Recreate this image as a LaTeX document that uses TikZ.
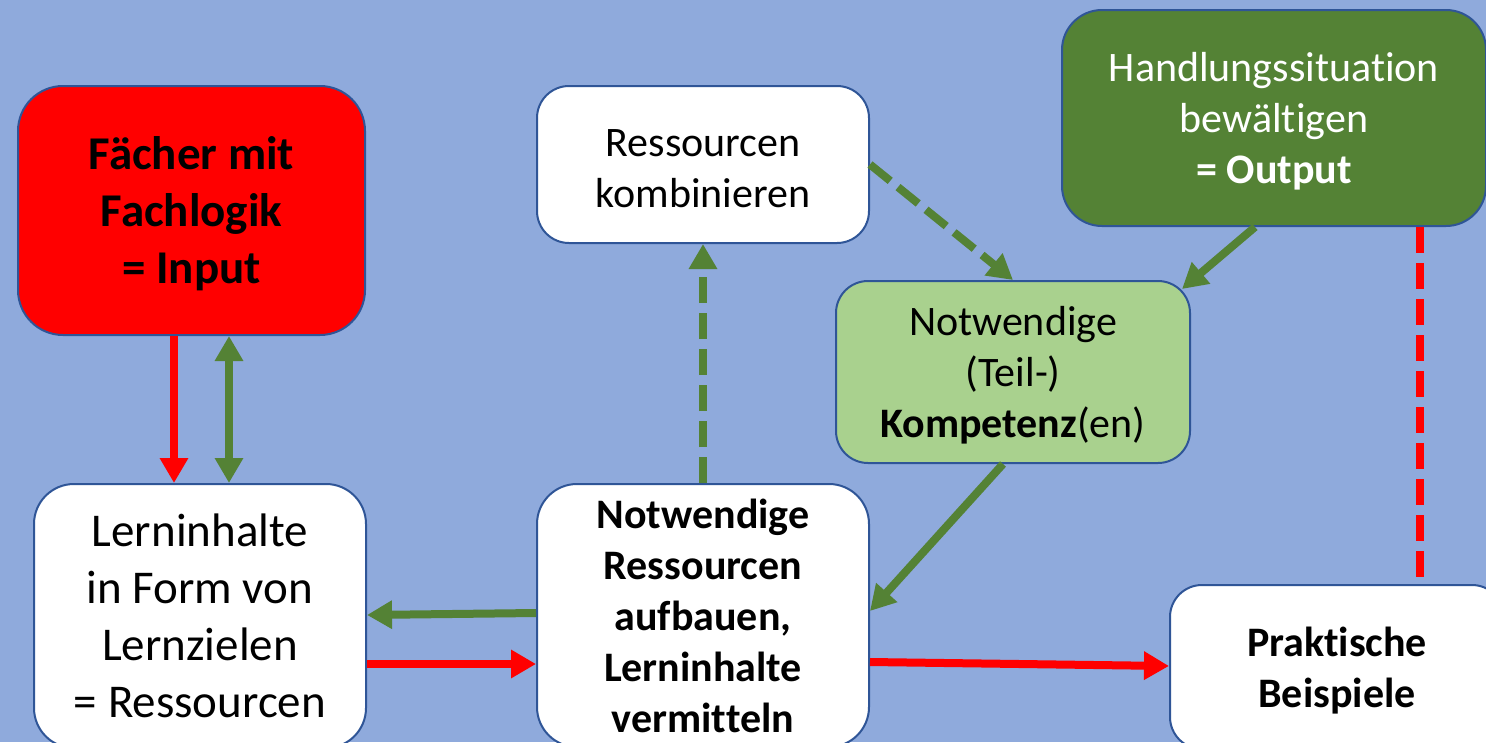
\documentclass[tikz,border=0pt]{standalone}
\usepackage{fontspec}
\setmainfont{Carlito}[Ligatures=NoCommon]
\usetikzlibrary{arrows.meta}
\definecolor{bg}{HTML}{8FAADC}
\definecolor{bord}{HTML}{2F5597}
\definecolor{dgreen}{HTML}{548235}
\definecolor{lgreen}{HTML}{A9D18E}
\definecolor{pred}{HTML}{FF0000}
\newcommand{\topstrut}{\rule{0pt}{\dimexpr0.66em+8pt\relax}}
\begin{document}
\begin{tikzpicture}[x=1pt,y=-1pt,
  >={Triangle[length=25pt,width=27pt]},
  box/.style={draw=bord, line width=2pt, fill=white, rounded corners=32pt, align=center, inner sep=0pt},
  big/.style={font=\fontsize{47}{57}\selectfont},
  mid/.style={font=\fontsize{42}{51}\selectfont},
  redline/.style={draw=pred, line width=8pt},
  greenline/.style={draw=dgreen, line width=8pt},
  dashpat/.style={dash pattern=on 26pt off 10pt}]
\useasboundingbox (0,0) rectangle (1486,742);
\clip (0,0) rectangle (1486,742);
\fill[bg] (0,0) rectangle (1486,742);

\node[box, big, fill=pred, rounded corners=45pt, minimum width=347pt, minimum height=249pt] (fach) at (191.5,210.5) {\topstrut\textbf{Fächer mit}\\\textbf{Fachlogik}\\\textbf{= Input}};
\node[box, mid, minimum width=332pt, minimum height=157pt] (kombi) at (703,164.5) {\topstrut Ressourcen\\kombinieren};
\node[box, mid, fill=dgreen, text=white, rounded corners=40pt, minimum width=424pt, minimum height=216pt] (hand) at (1274,118) {\topstrut Handlungssituation\\bewältigen\\\textbf{= Output}};
\node[box, mid, fill=lgreen, minimum width=354pt, minimum height=182pt] (komp) at (1013,372) {\topstrut Notwendige\\(Teil-)\\\textbf{Kompetenz}(en)};
\node[box, big, rounded corners=40pt, minimum width=332pt, minimum height=264pt] (lern) at (200,616) {Lerninhalte\\in Form von\\Lernzielen\\= Ressourcen};
\node[box, mid, rounded corners=40pt, minimum width=332pt, minimum height=263pt] (notw) at (703,615.5) {\textbf{Notwendige}\\\textbf{Ressourcen}\\\textbf{aufbauen,}\\\textbf{Lerninhalte}\\\textbf{vermitteln}};
\node[box, mid, minimum width=334pt, minimum height=164pt] (prak) at (1337,667) {\topstrut\textbf{Praktische}\\\textbf{Beispiele}};

% arrows
\draw[redline, ->] (174,0 |- fach.south) -- (174,0 |- lern.north);
\draw[greenline, <->] (229,0 |- fach.south) -- (229,0 |- lern.north);
\draw[greenline, dashpat, ->] (notw.north) -- (kombi.south);
\draw[greenline, dashpat, ->] (kombi.east) -- (komp.north);
\coordinate (kompcorner) at (1182,289);
\draw[greenline, ->] (1255,0 |- hand.south) -- (kompcorner);
\draw[greenline, ->] (1003,0 |- komp.south) -- (notw.east |- 0,611);
\draw[redline, dashpat] (1420,0 |- hand.south) -- (1420,0 |- prak.north);
\draw[greenline, ->] (notw.west |- 0,613) -- (lern.east |- 0,615);
\draw[redline, ->] (lern.east |- 0,664) -- (notw.west |- 0,664);
\draw[redline, ->] (notw.east |- 0,662) -- (prak.west |- 0,666);
\end{tikzpicture}
\end{document}
